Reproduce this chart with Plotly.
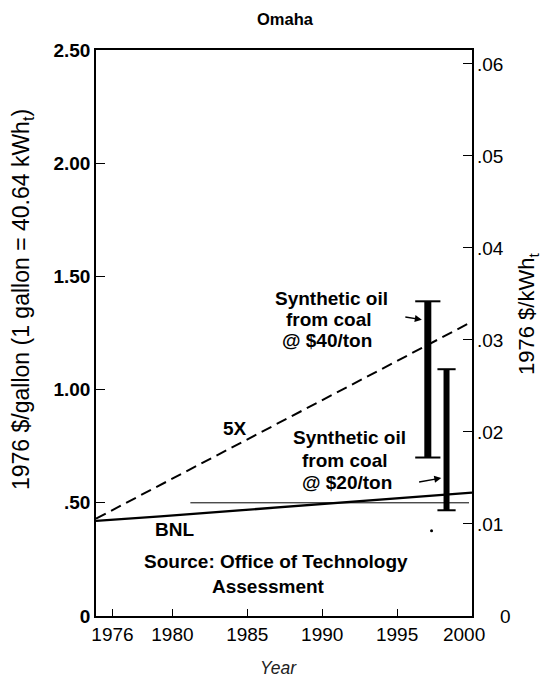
import plotly.graph_objects as go

# ---- data ----
KWH_PER_GALLON = 40.64
years_5x = [1974.9, 2000.0]
price_5x = [0.43, 1.30]
years_bnl = [1974.9, 1979.2, 2000.0]
price_bnl = [0.42, 0.44, 0.545]
ref_years = [1981.2, 1999.8]
ref_price = [0.50, 0.50]
bar40_year = [1997.05, 1997.05]
bar40_price = [0.70, 1.39]
bar20_year = [1998.3, 1998.3]
bar20_price = [0.467, 1.09]
dot_year = [1997.3]
dot_price = [0.376]
x_ticks = [1976, 1980, 1985, 1990, 1995, 2000]
x_tick_labels = ["1976", "1980", "1985", "1990", "1995", "2000&nbsp;&nbsp;&nbsp;"]
y_ticks = [0, 0.5, 1.0, 1.5, 2.0, 2.5]
y_tick_labels = ["0", ".50", "1.00", "1.50", "2.00", "2.50"]
y2_ticks = [0, 0.01, 0.02, 0.03, 0.04, 0.05, 0.06]
y2_tick_labels = ["0", ".01", ".02", ".03", ".04", ".05", ".06"]

FONT = "Liberation Sans"
X0, X1 = 1974.9, 2000.0
Y1 = 2.5

fig = go.Figure()
fig.add_trace(go.Scatter(x=years_5x, y=price_5x, mode="lines",
                         line=dict(color="black", width=2, dash="11px,6px"),
                         hoverinfo="skip", showlegend=False))
fig.add_trace(go.Scatter(x=years_bnl, y=price_bnl, mode="lines",
                         line=dict(color="black", width=2.3),
                         hoverinfo="skip", showlegend=False))
fig.add_trace(go.Scatter(x=ref_years, y=ref_price, mode="lines",
                         line=dict(color="black", width=1),
                         hoverinfo="skip", showlegend=False))
for bx, by, cap, w in [(bar40_year, bar40_price, 18, 7), (bar20_year, bar20_price, 13, 6)]:
    fig.add_trace(go.Scatter(x=bx, y=by, mode="lines",
                             line=dict(color="black", width=w),
                             hoverinfo="skip", showlegend=False))
    fig.add_trace(go.Scatter(x=bx, y=by, mode="markers",
                             marker=dict(symbol="line-ew", size=cap,
                                         line=dict(color="black", width=2)),
                             hoverinfo="skip", showlegend=False))
fig.add_trace(go.Scatter(x=dot_year, y=dot_price, mode="markers",
                         marker=dict(color="black", size=3),
                         hoverinfo="skip", showlegend=False))
# invisible trace to activate the right-hand kWh axis
fig.add_trace(go.Scatter(x=[years_bnl[0]], y=[price_bnl[0] / KWH_PER_GALLON],
                         yaxis="y2", mode="markers", marker=dict(opacity=0),
                         hoverinfo="skip", showlegend=False))

TF = 19
ann = []
def txt(x, y, s, size=TF, bold=True):
    ann.append(dict(x=x, y=y, xref="x", yref="y", text=(f"<b>{s}</b>" if bold else s),
                    xanchor="center", yanchor="middle",
                    showarrow=False, font=dict(family=FONT, size=size, color="black")))

txt(1990.62, 1.401, "Synthetic oil")
txt(1990.46, 1.309, "from coal")
txt(1990.29, 1.218, "@ $40/ton")
txt(1984.18, 0.827, "5X")
txt(1991.81, 0.788, "Synthetic oil")
txt(1991.54, 0.686, "from coal")
txt(1991.68, 0.591, "@ $20/ton")
txt(1980.12, 0.380, "BNL")
txt(1986.90, 0.241, "Source: Office of Technology")
txt(1986.39, 0.131, "Assessment")

# arrows
for (tx, ty, hx, hy) in [(1995.45, 1.322, 1996.65, 1.309), (1996.37, 0.591, 1997.95, 0.609)]:
    ann.append(dict(x=hx, y=hy, ax=tx, ay=ty, xref="x", yref="y", axref="x", ayref="y",
                    text="", showarrow=True, arrowhead=2, arrowsize=1, arrowwidth=1.4,
                    arrowcolor="black"))

# titles, positioned in pixels then converted to paper coords
L, R, T, B = 88, 85, 42, 82
W, H = 549, 690
pw, ph = W - L - R, H - T - B
def ptxt(px, py, s, size, angle=0, color="black"):
    ann.append(dict(x=(px - L) / pw, y=(H - B - py) / ph, xref="paper", yref="paper",
                    text=s, textangle=angle, xanchor="center", yanchor="middle",
                    showarrow=False, font=dict(family=FONT, size=size, color=color)))

ptxt(277, 11, "<b>Omaha</b>", 16.5)
ptxt(270, 660, "<i>Year</i>", 17.5, color="#222")
ptxt(14, 292, "1976 $/gallon (1 gallon = 40.64 kWh<sub>t</sub>)", 23, angle=-90)
ptxt(520, 306, "1976 $/kWh<sub>t</sub>", 22, angle=-90)
# right-axis zero label sits further out, clear of the "2000" year label
ptxt(497, H - B, y2_tick_labels[0], TF)

fig.update_layout(
    width=W, height=H,
    margin=dict(l=L, r=R, t=T, b=B),
    paper_bgcolor="white", plot_bgcolor="white",
    showlegend=False,
    annotations=ann,
    xaxis=dict(range=[X0, X1], tickvals=x_ticks, ticktext=x_tick_labels,
               ticks="inside", ticklen=7, tickwidth=1.2, tickcolor="black",
               showline=True, linecolor="black", linewidth=1.5, mirror=True,
               showgrid=False, zeroline=False,
               tickfont=dict(family=FONT, size=TF, color="black"), ticklabelstandoff=0),
    yaxis=dict(range=[0, Y1], tickvals=y_ticks, ticktext=[f"<b>{t}</b>" for t in y_tick_labels],
               ticks="inside", ticklen=9, tickwidth=1.2, tickcolor="black",
               showline=True, linecolor="black", linewidth=1.5, mirror=True,
               showgrid=False, zeroline=False,
               tickfont=dict(family=FONT, size=TF, color="black")),
    yaxis2=dict(range=[0, Y1 / KWH_PER_GALLON], overlaying="y", side="right",
                tickvals=y2_ticks[1:], ticktext=y2_tick_labels[1:],
                ticks="inside", ticklen=9, tickwidth=1.2, tickcolor="black",
                showline=True, linecolor="black", linewidth=1.2,
                showgrid=False, zeroline=False,
                tickfont=dict(family=FONT, size=TF, color="black")),
)

fig.write_html("out.html")
